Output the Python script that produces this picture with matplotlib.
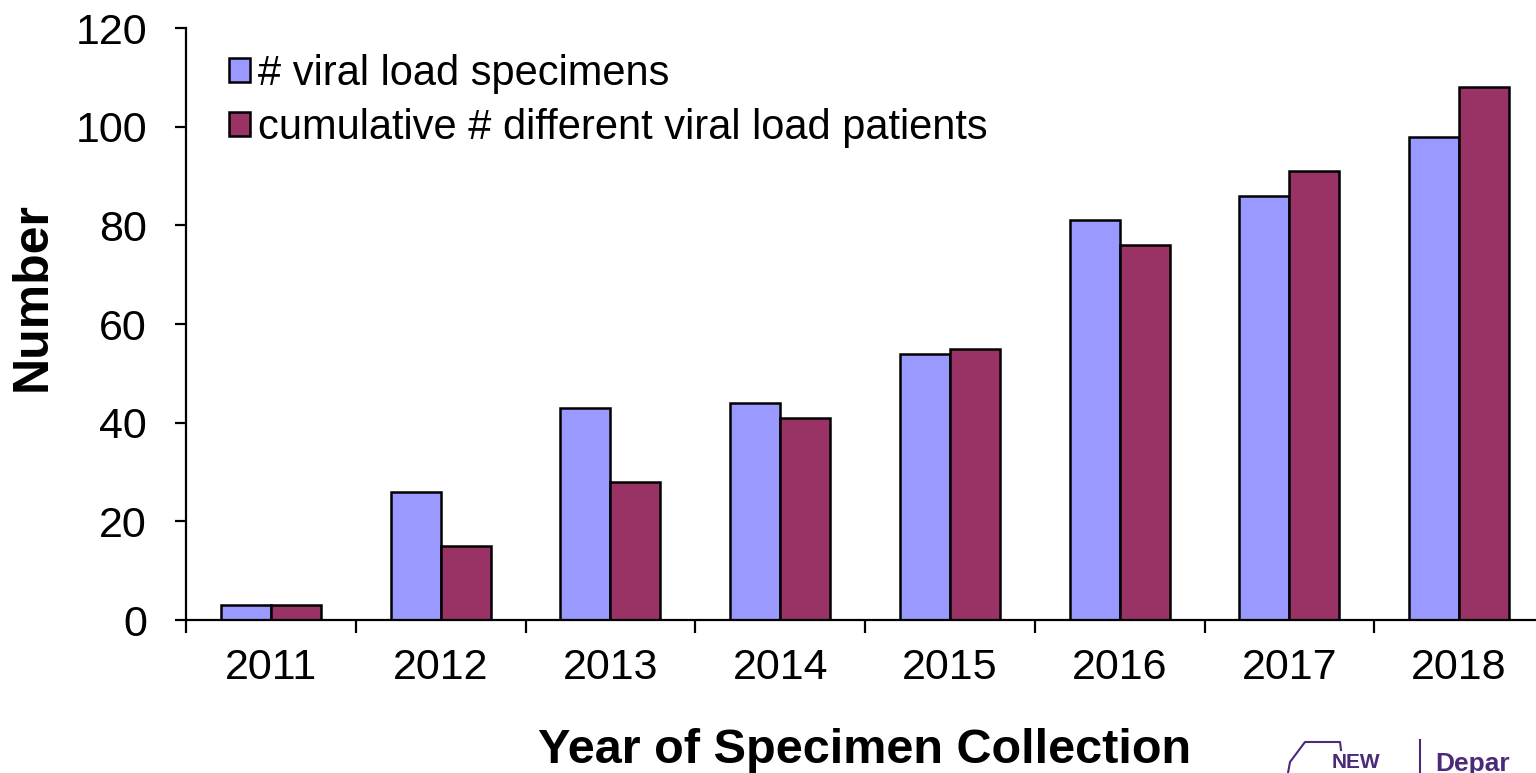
import matplotlib
matplotlib.use("Agg")
import matplotlib.pyplot as plt
import numpy as np

years = ["2011", "2012", "2013", "2014", "2015", "2016", "2017", "2018"]
specimens = [3, 26, 43, 44, 54, 81, 86, 98]
patients = [3, 15, 28, 41, 55, 76, 91, 108]
series_labels = ["# viral load specimens", "cumulative # different viral load patients"]
colors = ["#9999FF", "#993366"]

plt.rcParams['font.family'] = ['Liberation Sans', 'DejaVu Sans']

fig = plt.figure(figsize=(15.36, 7.73), dpi=100)
ax = fig.add_axes([186/1536, 153/773, 1358/1536, 592/773])

x = np.arange(len(years))
w = 0.295
ax.bar(x - w/2, specimens, w, color=colors[0], edgecolor='black', linewidth=1.8, label=series_labels[0])
ax.bar(x + w/2, patients, w, color=colors[1], edgecolor='black', linewidth=1.8, label=series_labels[1])

ax.set_xlim(-0.5, len(years) - 0.5)
ax.set_ylim(0, 120)
ax.set_yticks(range(0, 121, 20))
ax.set_xticks(x)
ax.set_xticklabels(years)
ax.set_xticks(np.arange(-0.5, len(years), 1), minor=True)
ax.tick_params(axis='x', which='major', length=0, labelsize=31, pad=20)
ax.tick_params(axis='x', which='minor', length=9, width=1.6, direction='out')
ax.tick_params(axis='y', length=8, width=1.6, labelsize=31, pad=20)

for s in ['top', 'right']:
    ax.spines[s].set_visible(False)
for s in ['left', 'bottom']:
    ax.spines[s].set_linewidth(1.6)

ax.set_ylabel("Number", fontsize=36, fontweight='bold')
ax.yaxis.set_label_coords(-0.0958, 0.547)
ax.set_xlabel("Year of Specimen Collection", fontsize=35, fontweight='bold', labelpad=29)

leg = ax.legend(loc='upper left', bbox_to_anchor=(0.0195, 0.985), frameon=False, fontsize=30,
                handlelength=0.5, handleheight=0.5, handletextpad=0.2, labelspacing=0.35,
                borderaxespad=0.0)

# logo fragment bottom-right
purple = "#4B2A7A"
fig.text(1332/1536, 1 - 768/773, "NEW", color=purple, fontsize=15, fontweight='bold', va='baseline')
fig.add_artist(plt.Line2D([1420/1536, 1420/1536], [1 - 740/773, 0], color=purple, linewidth=1.5))
outline_x = [1288, 1290, 1305, 1340, 1341]
outline_y = [773, 762, 742, 742, 750]
fig.add_artist(plt.Line2D([v/1536 for v in outline_x], [1 - v/773 for v in outline_y], color=purple, linewidth=1.5))
fig.text(1435/1536, 1 - 771/773, "Depar", color=purple, fontsize=19, fontweight='bold', va='baseline')

fig.savefig("out.png", dpi=100)
